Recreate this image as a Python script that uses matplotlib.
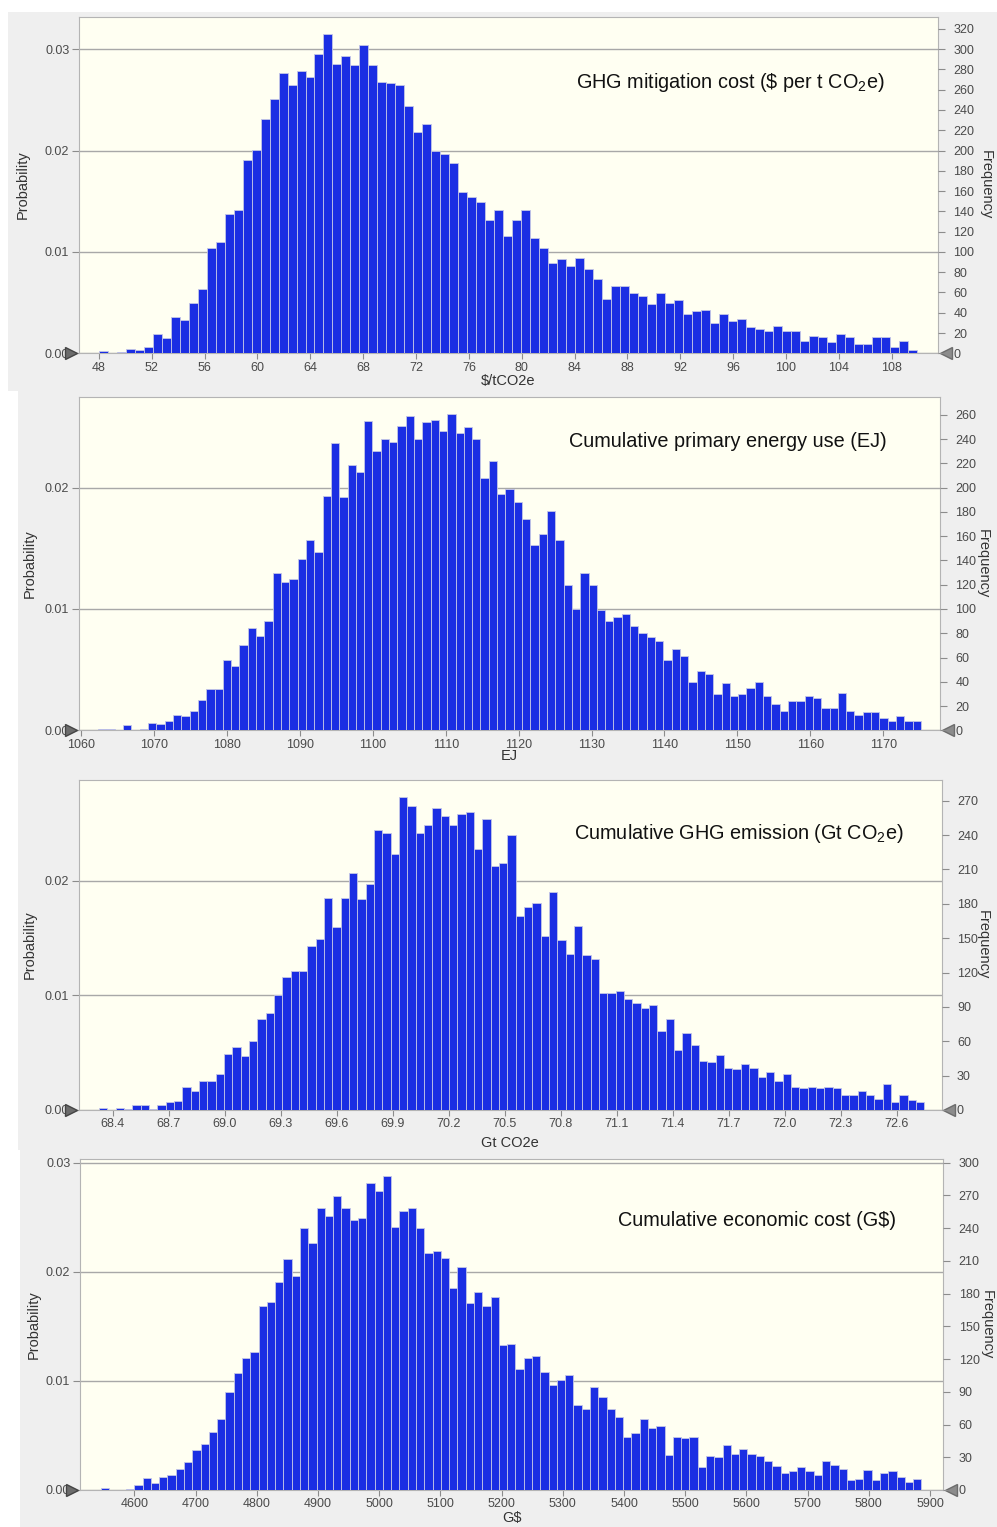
import numpy as np
import matplotlib
matplotlib.use('Agg')
import matplotlib.pyplot as plt
from matplotlib.patches import Rectangle

plt.rcParams['font.family'] = ['Liberation Sans', 'DejaVu Sans']
plt.rcParams['mathtext.fontset'] = 'custom'
plt.rcParams['mathtext.rm'] = 'Liberation Sans'
plt.rcParams['mathtext.it'] = 'Liberation Sans'

# sample size of the Monte Carlo run (probability = count / n_samples)
n_samples = 10000

# histogram counts per bin
mitigation_cost = [2, 0, 1, 4, 3, 6, 19, 15, 36, 33,
                   50, 63, 104, 110, 137, 141, 191, 201, 231, 251,
                   276, 265, 278, 273, 295, 315, 285, 293, 284, 304,
                   284, 268, 267, 265, 244, 218, 226, 200, 197, 188,
                   159, 154, 149, 131, 141, 116, 131, 141, 114, 104,
                   89, 93, 86, 94, 83, 73, 54, 66, 66, 59,
                   57, 49, 59, 50, 53, 39, 42, 43, 30, 39,
                   32, 34, 26, 24, 22, 27, 22, 22, 12, 17,
                   16, 11, 19, 16, 9, 9, 16, 16, 6, 12, 3]

primary_energy = [0, 0, 1, 1, 0, 4, 0, 1, 6, 5,
                  8, 13, 12, 16, 25, 34, 34, 58, 53, 70,
                  84, 78, 90, 130, 122, 125, 141, 157, 147, 193,
                  237, 192, 219, 213, 255, 230, 240, 238, 251, 259,
                  240, 254, 256, 247, 261, 245, 250, 240, 208, 222,
                  195, 199, 188, 174, 153, 162, 181, 157, 120, 100,
                  130, 120, 99, 90, 93, 96, 86, 80, 77, 74,
                  58, 67, 61, 40, 49, 46, 30, 39, 28, 30,
                  35, 40, 28, 22, 16, 24, 24, 28, 27, 18,
                  18, 31, 16, 13, 15, 15, 10, 8, 12, 8, 8]

ghg_emission = [2, 0, 2, 1, 4, 4, 1, 4, 7, 8,
                20, 17, 25, 25, 31, 49, 55, 47, 60, 79,
                85, 100, 116, 121, 121, 143, 149, 185, 160, 185,
                207, 184, 197, 244, 242, 223, 273, 265, 242, 249,
                264, 257, 249, 258, 260, 228, 254, 213, 216, 240,
                169, 177, 181, 152, 190, 148, 136, 161, 135, 132,
                102, 102, 104, 97, 93, 89, 92, 69, 79, 52,
                67, 57, 43, 42, 48, 37, 36, 40, 37, 29,
                33, 25, 31, 20, 19, 20, 19, 20, 19, 13,
                13, 17, 13, 10, 23, 7, 13, 9, 7]

economic_cost = [2, 0, 0, 1, 5, 11, 6, 12, 14, 19,
                 26, 37, 42, 53, 65, 90, 107, 121, 126, 169,
                 172, 191, 212, 196, 240, 226, 258, 251, 269, 258,
                 247, 249, 281, 274, 288, 241, 256, 258, 240, 217,
                 219, 213, 185, 204, 171, 181, 169, 177, 133, 134,
                 111, 121, 123, 108, 96, 101, 105, 78, 74, 94,
                 85, 74, 67, 49, 52, 65, 57, 59, 32, 49,
                 48, 49, 21, 31, 30, 41, 33, 38, 33, 31,
                 27, 22, 16, 17, 21, 17, 14, 27, 23, 19,
                 9, 10, 18, 9, 16, 17, 12, 7, 10]

# first bin edge and bin width of each histogram
bin_starts = [48.0, 1060.05, 68.327, 4545.6]
bin_widths = [0.68, 1.14, 0.04464, 13.54]

titles = [r'GHG mitigation cost (\$ per t CO$_2$e)',
          'Cumulative primary energy use (EJ)',
          r'Cumulative GHG emission (Gt CO$_2$e)',
          r'Cumulative economic cost (G\$)']
x_labels = [r'\$/tCO2e', 'EJ', 'Gt CO2e', r'G\$']

x_ticks = [[48, 52, 56, 60, 64, 68, 72, 76, 80, 84, 88, 92, 96, 100, 104, 108],
           [1060, 1070, 1080, 1090, 1100, 1110, 1120, 1130, 1140, 1150, 1160, 1170],
           [68.4, 68.7, 69.0, 69.3, 69.6, 69.9, 70.2, 70.5, 70.8, 71.1, 71.4, 71.7, 72.0, 72.3, 72.6],
           [4600, 4700, 4800, 4900, 5000, 5100, 5200, 5300, 5400, 5500, 5600, 5700, 5800, 5900]]
x_tick_labels = [[str(v) for v in x_ticks[0]],
                 [str(v) for v in x_ticks[1]],
                 ['%.1f' % v for v in x_ticks[2]],
                 [str(v) for v in x_ticks[3]]]

prob_ticks = [[0, 0.01, 0.02, 0.03], [0, 0.01, 0.02], [0, 0.01, 0.02], [0, 0.01, 0.02, 0.03]]
prob_tick_labels = [['0.00', '0.01', '0.02', '0.03'], ['0.00', '0.01', '0.02'],
                    ['0.00', '0.01', '0.02'], ['0.00', '0.01', '0.02', '0.03']]
freq_ticks = [list(range(0, 321, 20)), list(range(0, 261, 20)),
              list(range(0, 271, 30)), list(range(0, 301, 30))]

# layout (pixels of the 997x1527 picture)
W, H = 997, 1527
gray_boxes = [(8, 12, 997, 391), (18, 391, 997, 772), (18, 772, 997, 1150), (20, 1150, 997, 1527)]
axes_boxes = [(79, 16.7, 938, 353.3), (79, 396.7, 940, 730.3), (79, 780, 941.7, 1110), (80, 1159.3, 943.3, 1490)]
x_limits = [(46.5, 111.5), (1059.7, 1177.8), (68.22, 72.84), (4511, 5921.7)]
y_tops = [0.0332, 0.0275, 0.0288, 0.0303]
title_pos = [(0.758, 0.806), (0.754, 0.867), (0.765, 0.839), (0.784, 0.816)]
ylabel_x = [-0.057, -0.049, -0.049, -0.046]
freq_label_x = [1.064, 1.058, 1.056, 1.058]
xlabel_y = [-0.062, -0.057, -0.079, -0.063]

all_counts = [mitigation_cost, primary_energy, ghg_emission, economic_cost]

fig = plt.figure(figsize=(W / 100, H / 100), dpi=100)
fig.patch.set_facecolor('white')

for l, t, r, b in gray_boxes:
    fig.add_artist(Rectangle((l / W, 1 - b / H), (r - l) / W, (b - t) / H,
                             transform=fig.transFigure, facecolor='#efefef',
                             edgecolor='none', zorder=0))

for i, counts in enumerate(all_counts):
    l, t, r, b = axes_boxes[i]
    ax = fig.add_axes([l / W, 1 - b / H, (r - l) / W, (b - t) / H])
    ax.set_facecolor('#fffff2')

    x = bin_starts[i] + bin_widths[i] * np.arange(len(counts))
    prob = np.array(counts) / n_samples
    ax.bar(x, prob, width=bin_widths[i], align='edge', color='#1b2ee3',
           edgecolor='#c4c6e6', linewidth=0.6, zorder=3)

    ax.set_xlim(x_limits[i])
    ax.set_ylim(0, y_tops[i])
    ax.set_xticks(x_ticks[i])
    ax.set_xticklabels(x_tick_labels[i])
    ax.set_yticks(prob_ticks[i])
    ax.set_yticklabels(prob_tick_labels[i])
    ax.set_axisbelow(True)
    ax.grid(axis='y', color='#a8a8a8', linewidth=1.0)
    ax.grid(axis='x', visible=False)

    for s in ax.spines.values():
        s.set_color('#b4b4b4')
    ax.tick_params(axis='x', length=4, color='#8c8c8c', labelsize=9,
                   labelcolor='#4a4a4a', pad=2)
    ax.tick_params(axis='y', length=5, color='#8c8c8c', labelsize=9,
                   labelcolor='#4a4a4a', pad=2)

    ax.set_ylabel('Probability', fontsize=10.5, color='#333333')
    ax.yaxis.set_label_coords(ylabel_x[i], 0.5)
    ax.set_xlabel(x_labels[i], fontsize=10.5, color='#333333')
    ax.xaxis.set_label_coords(0.5, xlabel_y[i])

    ax2 = ax.twinx()
    ax2.set_ylim(0, y_tops[i] * n_samples)
    ax2.set_yticks(freq_ticks[i])
    for s in ax2.spines.values():
        s.set_visible(False)
    ax2.tick_params(axis='y', length=5, color='#8c8c8c', labelsize=9,
                    labelcolor='#4a4a4a', pad=6)
    ax2.set_ylabel('Frequency', fontsize=10.5, color='#333333', rotation=270)
    ax2.yaxis.set_label_coords(freq_label_x[i], 0.5)

    # slider triangles at zero
    ax.plot([-0.009], [0], marker='>', markersize=9, color='#6c6c6c',
            markeredgecolor='#444444', transform=ax.transAxes, clip_on=False, zorder=6)
    ax.plot([1.009], [0], marker='<', markersize=9, color='#8c8c8c',
            markeredgecolor='#6c6c6c', transform=ax.transAxes, clip_on=False, zorder=6)

    ax.text(title_pos[i][0], title_pos[i][1], titles[i], transform=ax.transAxes,
            ha='center', va='center', fontsize=14.3, color='#111111', zorder=7)

fig.savefig('out.png', dpi=100, facecolor=fig.get_facecolor())
